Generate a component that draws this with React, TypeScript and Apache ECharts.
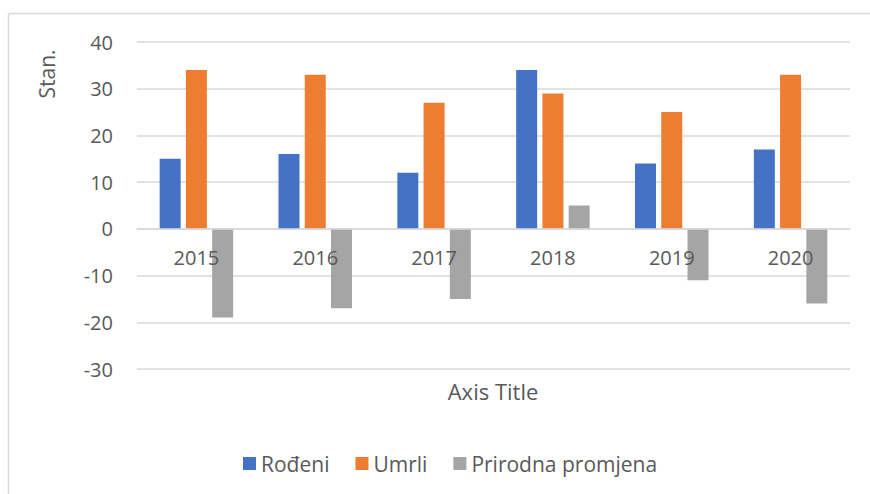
import React, { useEffect, useRef } from "react";
import * as echarts from "echarts";

const categories = ["2015", "2016", "2017", "2018", "2019", "2020"];
const rodeni = [15, 16, 12, 34, 14, 17];
const umrli = [34, 33, 27, 29, 25, 33];
const prirodna = [-19, -17, -15, 5, -11, -16];
const seriesNames = ["Rođeni", "Umrli", "Prirodna promjena"];
const colors = ["#4472C4", "#ED7D31", "#A5A5A5"];
const yMin = -30;
const yMax = 40;

export default function App() {
  const ref = useRef<HTMLDivElement>(null);
  useEffect(() => {
    if (!ref.current) return;
    const chart = echarts.init(ref.current, null, { renderer: "svg" });
    const font = "'Open Sans', sans-serif";
    const txt = "#595959";
    const dataSets = [rodeni, umrli, prirodna];
    const gridTop = 42;
    const gridBottom = 125;
    const gridH = 494 - gridTop - gridBottom;
    const zeroOffset = -(gridH * (0 - yMin)) / (yMax - yMin);
    chart.setOption({
      animation: false,
      backgroundColor: "#ffffff",
      textStyle: { fontFamily: font },
      grid: { left: 137, right: 20, top: gridTop, bottom: gridBottom, containLabel: false },
      legend: {
        left: 238,
        top: 448,
        icon: "rect",
        itemWidth: 13,
        itemHeight: 13,
        itemGap: 26,
        textStyle: { color: txt, fontSize: 21, fontFamily: font },
        data: seriesNames,
      },
      xAxis: {
        type: "category",
        data: categories,
        offset: zeroOffset,
        axisLine: { onZero: false, lineStyle: { color: "#d9d9d9", width: 1.5 } },
        axisTick: { show: false },
        axisLabel: { color: txt, fontSize: 20, margin: 19, fontFamily: font },
        z: 5,
      },
      yAxis: {
        type: "value",
        min: yMin,
        max: yMax,
        interval: 10,
        axisLine: { show: false },
        axisTick: { show: false },
        axisLabel: { color: txt, fontSize: 20, margin: 24, fontFamily: font },
        splitLine: { lineStyle: { color: "#d9d9d9", width: 1.5 } },
      },
      series: seriesNames.map((name, i) => ({
        name,
        type: "bar",
        data: dataSets[i],
        barWidth: 21,
        barGap: "25%",
        itemStyle: { color: colors[i] },
        z: 3,
      })),
      graphic: [
        {
          type: "line",
          shape: { x1: 8.5, y1: 13.5, x2: 870, y2: 13.5 },
          style: { stroke: "#d9d9d9", lineWidth: 1.5 },
        },
        {
          type: "line",
          shape: { x1: 8.5, y1: 13.5, x2: 8.5, y2: 494 },
          style: { stroke: "#d9d9d9", lineWidth: 1.5 },
        },
        {
          type: "text",
          x: 47,
          y: 74,
          rotation: Math.PI / 2,
          style: {
            text: "Stan.",
            fill: txt,
            fontSize: 21,
            fontFamily: font,
            align: "center",
            verticalAlign: "middle",
          },
        },
        {
          type: "text",
          x: 493,
          y: 391,
          style: {
            text: "Axis Title",
            fill: txt,
            fontSize: 22,
            fontFamily: font,
            align: "center",
            verticalAlign: "middle",
          },
        },
      ],
    });
    return () => chart.dispose();
  }, []);
  return (
    <div
      ref={ref}
      style={{ position: "absolute", left: 0, top: 0, width: 870, height: 494 }}
    />
  );
}
